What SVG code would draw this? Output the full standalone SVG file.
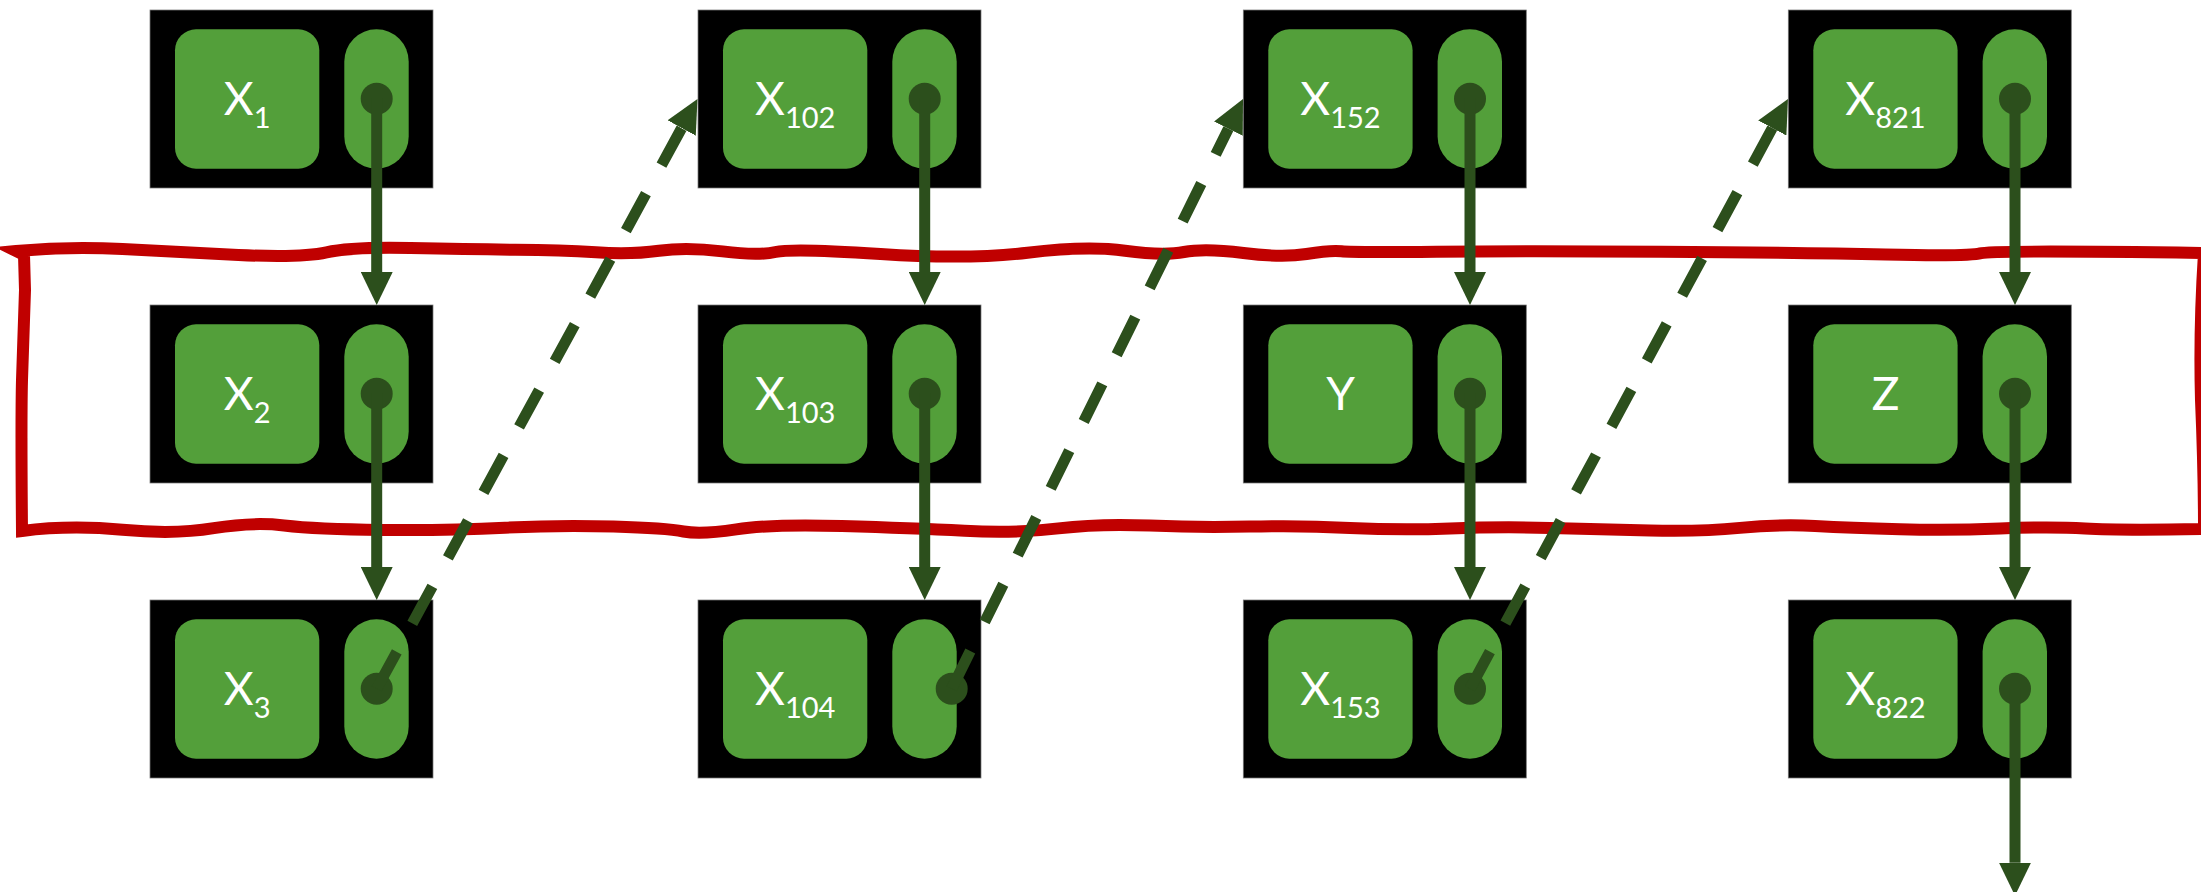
<svg xmlns="http://www.w3.org/2000/svg" width="2201" height="892" viewBox="0 0 2201 892">
  <style>
    .bg{fill:#000;stroke:#777;stroke-width:0.75}
    .g{fill:#539F3A}
    .dot{fill:#2C4F1C}
    .lbl{font-family:"Lato","Open Sans","Liberation Sans",sans-serif;font-weight:400;font-size:46px;fill:#fff;text-anchor:middle}
    .sub{font-size:29px}
    .solid{fill:none;stroke:#2C4F1C;stroke-width:11;stroke-linecap:butt}
    .dash{fill:none;stroke:#2C4F1C;stroke-width:11;stroke-linecap:butt;stroke-dasharray:42 32.5}
    .frame{fill:none;stroke:#C00000;stroke-width:12;stroke-linejoin:miter;stroke-miterlimit:4}
  </style>
  <defs>
    <marker id="ah" viewBox="0 0 33 32" markerWidth="33" markerHeight="32" refX="0" refY="16" orient="auto" markerUnits="userSpaceOnUse">
      <path d="M0,0 L33,16 L0,32 Z" fill="#2C4F1C"/>
    </marker>
    <g id="card">
      <rect class="bg" x="0" y="0" width="283" height="178"/>
      <rect class="g" x="25" y="19.3" width="144.3" height="139.4" rx="21"/>
      <rect class="g" x="194.3" y="19.3" width="64.4" height="139.4" rx="32.2"/>
    </g>
  </defs>

  <g id="group-frame">
    <path class="frame" d="M16,251 Q70,246.2 122.5,249.1 Q175,252 238.5,255 Q302,257.9 326.5,252.4 Q351,246.8 410.5,248.1 Q470,249.4 515.5,249.7 Q561,250 596,252.3 Q631,254.6 659,250.7 Q687,246.8 722.5,251.4 Q758,255.9 775.5,252 Q793,248.1 880.5,254 Q968,259.8 1027.5,252.7 Q1087,245.5 1125,250.7 Q1163,255.9 1184,252 Q1205,248.1 1243.5,253 Q1282,257.9 1306.5,254 Q1331,250 1341.5,251.3 Q1352,252.6 1436.5,251.7 Q1521,250.7 1661,251.7 Q1801,252.6 1885.5,254.6 Q1970,256.5 1980.5,253.3 Q1991,250 2204,253 Q2199,330 2201,400 Q2204,470 2204,529 Q2120,530.5 2085,528.5 Q2050,526.5 2000,528.5 Q1950,530.5 1900,529.2 Q1850,527.9 1815,526 Q1780,524 1740,527.9 Q1700,531.8 1650,530.5 Q1600,529.2 1550,527.9 Q1500,526.5 1450,528.5 Q1400,530.5 1350,527.9 Q1300,525.3 1250,526.6 Q1200,527.9 1150,525.6 Q1100,523.3 1058.5,528.4 Q1017,533.4 964.5,530.8 Q912,528.2 841.8,526.1 Q771.6,524 736.3,529.4 Q701,534.7 683.5,531.5 Q666,528.2 613.5,526.6 Q561,524.9 505,527.7 Q449,530.5 382.4,529.9 Q315.7,529.2 284.1,525.5 Q252.5,521.7 213.8,528.2 Q175,534.7 122.5,529.8 Q70,524.9 22,531 Q21,420 22,380 Q24,320 25,290 L24,255 Z"/>
  </g>

  <g id="node-x1" transform="translate(150,10)">
    <use href="#card"/>
    <circle class="dot" cx="226.7" cy="88.7" r="16"/>
    <text class="lbl" x="97.2" y="105">X<tspan class="sub" dy="12.7">1</tspan></text>
  </g>
  <g id="node-x2" transform="translate(150,305)">
    <use href="#card"/>
    <circle class="dot" cx="226.7" cy="88.7" r="16"/>
    <text class="lbl" x="97.2" y="105">X<tspan class="sub" dy="12.7">2</tspan></text>
  </g>
  <g id="node-x3" transform="translate(150,600)">
    <use href="#card"/>
    <circle class="dot" cx="226.7" cy="88.7" r="16"/>
    <text class="lbl" x="97.2" y="105">X<tspan class="sub" dy="12.7">3</tspan></text>
  </g>

  <g id="node-x102" transform="translate(698,10)">
    <use href="#card"/>
    <circle class="dot" cx="226.7" cy="88.7" r="16"/>
    <text class="lbl" x="97.2" y="105">X<tspan class="sub" dy="12.7">102</tspan></text>
  </g>
  <g id="node-x103" transform="translate(698,305)">
    <use href="#card"/>
    <circle class="dot" cx="226.7" cy="88.7" r="16"/>
    <text class="lbl" x="97.2" y="105">X<tspan class="sub" dy="12.7">103</tspan></text>
  </g>
  <g id="node-x104" transform="translate(698,600)">
    <use href="#card"/>
    <circle class="dot" cx="253.7" cy="88.7" r="16"/>
    <text class="lbl" x="97.2" y="105">X<tspan class="sub" dy="12.7">104</tspan></text>
  </g>

  <g id="node-x152" transform="translate(1243.3,10)">
    <use href="#card"/>
    <circle class="dot" cx="226.7" cy="88.7" r="16"/>
    <text class="lbl" x="97.2" y="105">X<tspan class="sub" dy="12.7">152</tspan></text>
  </g>
  <g id="node-y" transform="translate(1243.3,305)">
    <use href="#card"/>
    <circle class="dot" cx="226.7" cy="88.7" r="16"/>
    <text class="lbl" x="97.2" y="105">Y</text>
  </g>
  <g id="node-x153" transform="translate(1243.3,600)">
    <use href="#card"/>
    <circle class="dot" cx="226.7" cy="88.7" r="16"/>
    <text class="lbl" x="97.2" y="105">X<tspan class="sub" dy="12.7">153</tspan></text>
  </g>

  <g id="node-x821" transform="translate(1788.3,10)">
    <use href="#card"/>
    <circle class="dot" cx="226.7" cy="88.7" r="16"/>
    <text class="lbl" x="97.2" y="105">X<tspan class="sub" dy="12.7">821</tspan></text>
  </g>
  <g id="node-z" transform="translate(1788.3,305)">
    <use href="#card"/>
    <circle class="dot" cx="226.7" cy="88.7" r="16"/>
    <text class="lbl" x="97.2" y="105">Z</text>
  </g>
  <g id="node-x822" transform="translate(1788.3,600)">
    <use href="#card"/>
    <circle class="dot" cx="226.7" cy="88.7" r="16"/>
    <text class="lbl" x="97.2" y="105">X<tspan class="sub" dy="12.7">822</tspan></text>
  </g>

  <g id="connectors">
    <path class="solid" marker-end="url(#ah)" d="M376.7,98.7 V272"/>
    <path class="solid" marker-end="url(#ah)" d="M376.7,393.7 V567"/>
    <path class="solid" marker-end="url(#ah)" d="M924.7,98.7 V272"/>
    <path class="solid" marker-end="url(#ah)" d="M924.7,393.7 V567"/>
    <path class="solid" marker-end="url(#ah)" d="M1470,98.7 V272"/>
    <path class="solid" marker-end="url(#ah)" d="M1470,393.7 V567"/>
    <path class="solid" marker-end="url(#ah)" d="M2015,98.7 V272"/>
    <path class="solid" marker-end="url(#ah)" d="M2015,393.7 V567"/>
    <path class="solid" marker-end="url(#ah)" d="M2015,688.7 V862.7"/>
    <path class="dash" marker-end="url(#ah)" d="M376.7,688.7 L681.7,128"/>
    <path class="dash" marker-end="url(#ah)" d="M951.7,688.7 L1228.4,128.6"/>
    <path class="dash" marker-end="url(#ah)" d="M1470,688.7 L1772.3,128"/>
  </g>
</svg>
